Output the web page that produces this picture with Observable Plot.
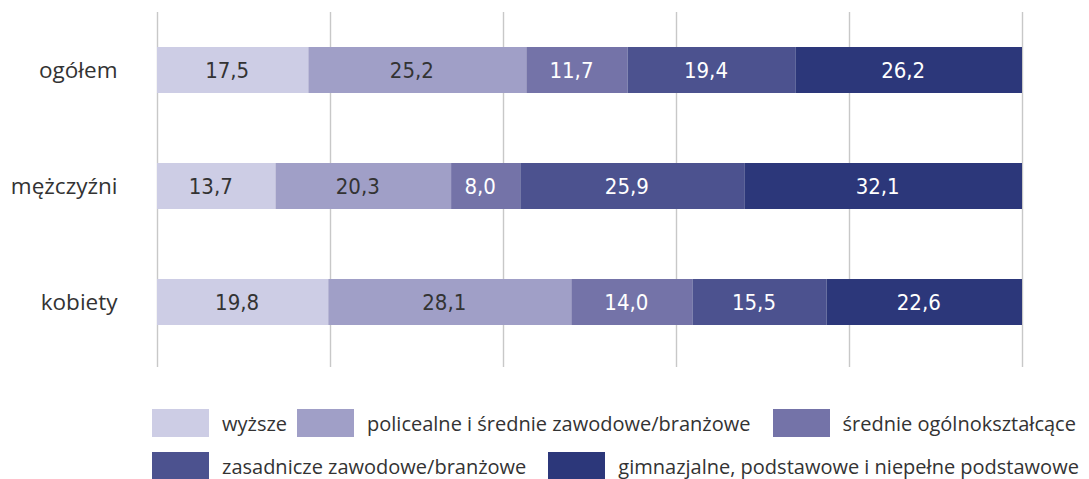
<!DOCTYPE html>
<html>
<head>
<meta charset="utf-8">
<script src="https://cdn.jsdelivr.net/npm/d3@7"></script>
<script src="https://cdn.jsdelivr.net/npm/@observablehq/plot@0.6"></script>
<style>
  html, body { margin: 0; padding: 0; background: #fff; }
  #chart svg { display: block; }
  .legend { font-family: "Open Sans", sans-serif; font-size: 20px; color: #333; padding-left: 152px; padding-top: 37px; }
  .lrow { display: flex; align-items: center; height: 28px; margin-bottom: 15px; }
  .item { display: flex; align-items: center; margin-right: 22px; white-space: nowrap; }
  .item.first { margin-right: 10px; }
  .sw { width: 57px; height: 28px; margin-right: 13px; flex: none; }
</style>
</head>
<body>
<div id="chart"></div>
<div class="legend" id="legend"></div>
<script>
const groups = ["ogółem", "mężczyźni", "kobiety"];
const levels = [
  "wyższe",
  "policealne i średnie zawodowe/branżowe",
  "średnie ogólnokształcące",
  "zasadnicze zawodowe/branżowe",
  "gimnazjalne, podstawowe i niepełne podstawowe"
];
const colors = ["#cdcde5", "#a09fc7", "#7473a8", "#4c528f", "#2c377a"];
const ogolem = [17.5, 25.2, 11.7, 19.4, 26.2];
const mezczyzni = [13.7, 20.3, 8.0, 25.9, 32.1];
const kobiety = [19.8, 28.1, 14.0, 15.5, 22.6];
const gridTicks = [0, 20, 40, 60, 80, 100];
const darkTextLevels = [levels[0], levels[1]];

const series = [ogolem, mezczyzni, kobiety];
const data = [];
groups.forEach((g, gi) => {
  levels.forEach((l, li) => data.push({group: g, level: l, value: series[gi][li]}));
});
const fmt = d => d.value.toFixed(1).replace(".", ",");
const isDark = d => darkTextLevels.includes(d.level);
const valueFont = "'Liberation Sans Narrow', 'DejaVu Sans Condensed', sans-serif";

const chart = Plot.plot({
  width: 1089,
  height: 372,
  marginLeft: 157,
  marginRight: 67,
  marginTop: 12,
  marginBottom: 5,
  x: {domain: [0, 100], axis: null},
  y: {domain: groups, paddingInner: 0.6, paddingOuter: 0.32, align: 0.46, label: null, axis: null},
  color: {domain: levels, range: colors},
  marks: [
    Plot.ruleX(gridTicks, {stroke: "#c8c8c8", strokeWidth: 1.4}),
    Plot.barX(data, Plot.stackX({x: "value", y: "group", fill: "level"})),
    Plot.text(data, Plot.stackX({
      x: "value", y: "group", z: "level",
      text: d => isDark(d) ? fmt(d) : "",
      fill: "#333", dx: -6, fontFamily: valueFont, fontSize: 22
    })),
    Plot.text(data, Plot.stackX({
      x: "value", y: "group", z: "level",
      text: d => isDark(d) ? "" : fmt(d),
      fill: "#fff", dx: -6, fontFamily: valueFont, fontSize: 22
    })),
    Plot.axisY({tickSize: 0, tickPadding: 40, fontSize: 22.5, fill: "#333", fontFamily: "'Open Sans', sans-serif", label: null})
  ]
});
document.getElementById("chart").appendChild(chart);

const legend = document.getElementById("legend");
const rows = [[0, 1, 2], [3, 4]];
rows.forEach(r => {
  const row = document.createElement("div");
  row.className = "lrow";
  r.forEach((i, k) => {
    const it = document.createElement("div");
    it.className = i === 0 ? "item first" : "item";
    const sw = document.createElement("div");
    sw.className = "sw";
    sw.style.background = colors[i];
    const tx = document.createElement("span");
    tx.textContent = levels[i];
    it.appendChild(sw);
    it.appendChild(tx);
    row.appendChild(it);
  });
  legend.appendChild(row);
});
</script>
</body>
</html>
